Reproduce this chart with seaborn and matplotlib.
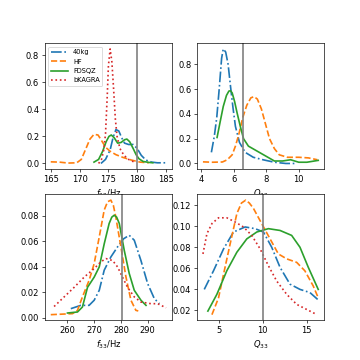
import numpy as np
import matplotlib
matplotlib.use('Agg')
import matplotlib.pyplot as plt
import seaborn as sns

labels = ['40kg', 'HF', 'FDSQZ', 'bKAGRA']
colors = ['#1f77b4', '#ff7f0e', '#2ca02c', '#d62728']
styles = ['-.', '--', '-', ':']

# f22 (Hz) densities
f22_40kg_x = [173.7, 174.5, 175.3, 175.8, 176.3, 176.8, 177.3, 177.8, 178.5, 179.3, 180.0, 180.7, 181.5, 182.5, 183.5, 185.0]
f22_40kg_y = [0.0, 0.03, 0.10, 0.19, 0.25, 0.24, 0.19, 0.15, 0.14, 0.14, 0.11, 0.06, 0.025, 0.01, 0.005, 0.005]
f22_hf_x = [165, 166.5, 168, 169.5, 170.3, 171, 171.8, 172.5, 173.2, 173.8, 174.5, 175.3, 176.3, 177.5, 179, 180.5, 182]
f22_hf_y = [0.012, 0.01, 0.003, 0.005, 0.03, 0.1, 0.18, 0.215, 0.21, 0.17, 0.12, 0.09, 0.065, 0.045, 0.025, 0.01, 0.005]
f22_fdsqz_x = [172.5, 173.3, 174.0, 174.6, 175.1, 175.5, 176.0, 176.6, 177.2, 177.8, 178.2, 178.7, 179.3, 179.8, 180.3, 181.0, 182.0, 182.7]
f22_fdsqz_y = [0.01, 0.03, 0.09, 0.16, 0.20, 0.21, 0.19, 0.15, 0.155, 0.175, 0.18, 0.16, 0.11, 0.065, 0.035, 0.015, 0.008, 0.005]
f22_bkagra_x = [173.3, 173.8, 174.2, 174.5, 174.8, 175.0, 175.3, 175.6, 175.9, 176.2, 176.5, 177.0, 177.7, 178.5, 179.5]
f22_bkagra_y = [0.0, 0.03, 0.10, 0.22, 0.50, 0.72, 0.845, 0.75, 0.55, 0.33, 0.20, 0.11, 0.06, 0.03, 0.01]

# Q22 densities
q22_40kg_x = [4.62, 4.8, 4.95, 5.1, 5.25, 5.35, 5.5, 5.65, 5.8, 5.95, 6.1, 6.35, 6.7, 7.2, 7.8, 8.5, 9.2, 9.8]
q22_40kg_y = [0.09, 0.22, 0.37, 0.6, 0.85, 0.925, 0.9, 0.8, 0.62, 0.45, 0.3, 0.17, 0.09, 0.05, 0.03, 0.01, 0.0, 0.0]
q22_hf_x = [4.1, 4.7, 5.3, 5.6, 5.9, 6.1, 6.3, 6.55, 6.8, 7.05, 7.25, 7.45, 7.7, 7.95, 8.2, 8.5, 8.8, 9.3, 10.0, 10.6, 11.15]
q22_hf_y = [0.013, 0.01, 0.012, 0.03, 0.07, 0.14, 0.23, 0.37, 0.47, 0.53, 0.54, 0.52, 0.44, 0.32, 0.2, 0.12, 0.07, 0.05, 0.05, 0.045, 0.03]
q22_fdsqz_x = [4.97, 5.15, 5.35, 5.55, 5.7, 5.8, 5.9, 6.05, 6.2, 6.4, 6.6, 6.9, 7.3, 7.7, 8.1, 8.5, 9.0, 9.5, 10.0, 10.5, 11.2]
q22_fdsqz_y = [0.21, 0.33, 0.46, 0.55, 0.585, 0.587, 0.57, 0.5, 0.41, 0.3, 0.2, 0.14, 0.11, 0.08, 0.05, 0.02, 0.02, 0.03, 0.01, 0.01, 0.025]

# f33 (Hz) densities
f33_40kg_x = [261.25, 265, 268.1, 270, 271.9, 273.75, 276.25, 278.75, 281, 283.1, 285, 287.5, 290, 292.5, 294.4]
f33_40kg_y = [0.0073, 0.0099, 0.0099, 0.0139, 0.0217, 0.0374, 0.0478, 0.0557, 0.062, 0.0648, 0.0609, 0.045, 0.027, 0.0152, 0.0112]
f33_hf_x = [253.75, 261.9, 263.75, 265.6, 268.1, 270, 271.9, 273.75, 275, 276.25, 277.2, 278.1, 280, 281.9, 283.75, 285.6, 286.5]
f33_hf_y = [0.0026, 0.0034, 0.006, 0.0165, 0.0295, 0.0426, 0.0635, 0.0845, 0.091, 0.0923, 0.088, 0.079, 0.0557, 0.032, 0.0139, 0.006, 0.0055]
f33_fdsqz_x = [260, 263.75, 265.6, 267.5, 270, 271.9, 273.75, 275.6, 276.6, 277.5, 278.4, 279.4, 281.25, 283.1, 285, 287.5, 289.4]
f33_fdsqz_y = [0.0039, 0.0047, 0.0086, 0.024, 0.032, 0.04, 0.058, 0.074, 0.079, 0.0805, 0.079, 0.074, 0.053, 0.035, 0.0217, 0.0139, 0.0099]
f33_bkagra_x = [255, 258.75, 262.5, 266.25, 270, 272.5, 274.4, 276.9, 278.75, 280.6, 282.5, 285, 287.5, 291.25, 293.75, 296.9]
f33_bkagra_y = [0.009, 0.0165, 0.024, 0.032, 0.0387, 0.044, 0.0465, 0.045, 0.04, 0.032, 0.024, 0.0165, 0.0125, 0.0112, 0.0112, 0.008]

# Q33 densities
q33_40kg_x = [3.38, 4.43, 5.57, 6.7, 8.02, 9.15, 10.1, 11.04, 11.98, 13.11, 14.25, 15.38, 16.25]
q33_40kg_y = [0.04, 0.0577, 0.0785, 0.0945, 0.0993, 0.0977, 0.0945, 0.08, 0.061, 0.045, 0.04, 0.037, 0.0305]
q33_hf_x = [4.25, 5.0, 5.57, 6.32, 7.08, 7.6, 8.09, 8.5, 8.96, 9.9, 10.85, 11.79, 12.74, 13.87, 14.8, 15.75, 16.32]
q33_hf_y = [0.016, 0.032, 0.0545, 0.0833, 0.112, 0.122, 0.1248, 0.122, 0.117, 0.1025, 0.088, 0.0737, 0.069, 0.0657, 0.0577, 0.0433, 0.032]
q33_fdsqz_x = [3.79, 4.81, 5.94, 7.08, 8.21, 9.34, 10.66, 11.98, 13.3, 14.25, 15.19, 16.32]
q33_fdsqz_y = [0.0194, 0.0353, 0.0577, 0.0753, 0.088, 0.0945, 0.0977, 0.096, 0.0913, 0.08, 0.061, 0.04]
q33_bkagra_x = [3.23, 3.68, 4.25, 5.0, 5.94, 6.89, 7.83, 8.77, 9.72, 10.66, 11.6, 12.74, 13.87, 15.0, 16.13]
q33_bkagra_y = [0.0737, 0.0929, 0.1025, 0.108, 0.108, 0.104, 0.0993, 0.0913, 0.0785, 0.0625, 0.048, 0.0353, 0.0258, 0.021, 0.0162]

true_values = [180.0, 6.55, 280.5, 10.0]
xlabels = ['$f_{22}$/Hz', '$Q_{22}$', '$f_{33}$/Hz', '$Q_{33}$']

panels = [
    [(f22_40kg_x, f22_40kg_y), (f22_hf_x, f22_hf_y), (f22_fdsqz_x, f22_fdsqz_y), (f22_bkagra_x, f22_bkagra_y)],
    [(q22_40kg_x, q22_40kg_y), (q22_hf_x, q22_hf_y), (q22_fdsqz_x, q22_fdsqz_y), None],
    [(f33_40kg_x, f33_40kg_y), (f33_hf_x, f33_hf_y), (f33_fdsqz_x, f33_fdsqz_y), (f33_bkagra_x, f33_bkagra_y)],
    [(q33_40kg_x, q33_40kg_y), (q33_hf_x, q33_hf_y), (q33_fdsqz_x, q33_fdsqz_y), (q33_bkagra_x, q33_bkagra_y)],
]

fig, axes = plt.subplots(2, 2, figsize=(6, 6))
for i, ax in enumerate(axes.flat):
    for j, curve in enumerate(panels[i]):
        if curve is None:
            continue
        sns.lineplot(x=curve[0], y=curve[1], ax=ax, color=colors[j], linestyle=styles[j],
                     lw=2, label=labels[j], estimator=None)
    ax.axvline(true_values[i], color='grey', lw=2)
    ax.set_xlabel(xlabels[i])
    ax.set_ylabel('')
    if i == 0:
        ax.legend(loc='upper left', fontsize=8, handlelength=2.5)
    elif ax.get_legend() is not None:
        ax.get_legend().remove()

axes[0, 0].set_xticks([165, 170, 175, 180, 185])
axes[0, 1].set_xticks([4, 6, 8, 10])

plt.savefig('out.png', dpi=60)
